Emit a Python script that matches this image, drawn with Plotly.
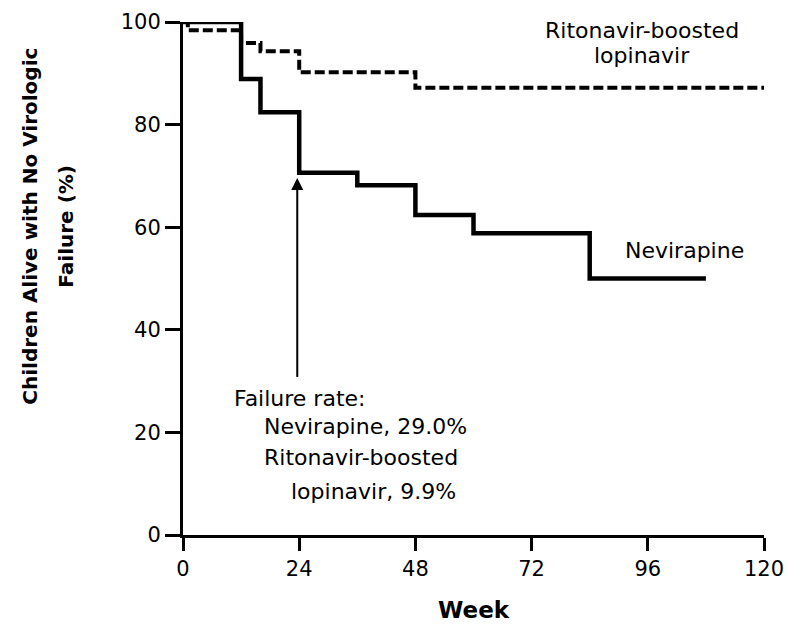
import plotly.graph_objects as go

# Kaplan-Meier style step data (week, % alive with no virologic failure)
nvp_weeks = [0, 12, 16, 24, 36, 48, 60, 84, 108]
nvp_surv = [100, 88.9, 82.4, 70.6, 68.2, 62.4, 58.8, 50.0, 50.0]
lpv_weeks = [0, 1, 12, 16, 24, 48, 120]
lpv_surv = [100, 98.4, 95.9, 94.3, 90.2, 87.2, 87.2]

x_ticks = [0, 24, 48, 72, 96, 120]
y_ticks = [0, 20, 40, 60, 80, 100]

FONT = "DejaVu Sans"

fig = go.Figure()
fig.add_trace(go.Scatter(x=lpv_weeks, y=lpv_surv, mode="lines", line_shape="hv",
                         line=dict(color="black", width=4, dash="10px,4px"),
                         cliponaxis=False, showlegend=False, hoverinfo="skip"))
fig.add_trace(go.Scatter(x=nvp_weeks, y=nvp_surv, mode="lines", line_shape="hv",
                         line=dict(color="black", width=4.5),
                         cliponaxis=False, showlegend=False, hoverinfo="skip"))

ann_font = dict(family=FONT, size=22, color="black")
annotations = [
    dict(x=94.7, y=98.3, text="Ritonavir-boosted", showarrow=False,
         xanchor="center", yanchor="middle", font=ann_font),
    dict(x=94.7, y=93.5, text="lopinavir", showarrow=False,
         xanchor="center", yanchor="middle", font=ann_font),
    dict(x=103.5, y=55.5, text="Nevirapine", showarrow=False,
         xanchor="center", yanchor="middle", font=ann_font),
    dict(x=10.1, y=26.6, text="Failure rate:", showarrow=False,
         xanchor="left", yanchor="middle", font=ann_font),
    dict(x=16.3, y=21.1, text="Nevirapine, 29.0%", showarrow=False,
         xanchor="left", yanchor="middle", font=ann_font),
    dict(x=16.3, y=15.1, text="Ritonavir-boosted", showarrow=False,
         xanchor="left", yanchor="middle", font=ann_font),
    dict(x=21.9, y=8.5, text="lopinavir, 9.9%", showarrow=False,
         xanchor="left", yanchor="middle", font=ann_font),
    # arrow
    dict(x=23.6, y=69.6, ax=23.6, ay=30.5, xref="x", yref="y", axref="x", ayref="y",
         text="", showarrow=True, arrowhead=2, arrowsize=1.2, arrowwidth=2,
         arrowcolor="black"),
    # axis titles
    dict(x=0, y=0.601, xref="paper", yref="paper", text="<b>Children Alive with No Virologic</b>",
         textangle=-90, showarrow=False, xanchor="center", yanchor="middle",
         xshift=-153, font=dict(family=FONT, size=20, color="black")),
    dict(x=0, y=0.601, xref="paper", yref="paper", text="<b>Failure (%)</b>",
         textangle=-90, showarrow=False, xanchor="center", yanchor="middle",
         xshift=-117, font=dict(family=FONT, size=20, color="black")),
    dict(x=0.5, y=0, xref="paper", yref="paper", text="<b>Week</b>", showarrow=False,
         xanchor="center", yanchor="middle", yshift=-75,
         font=dict(family=FONT, size=23, color="black")),
]

fig.update_layout(
    width=787, height=624,
    margin=dict(l=183, r=23, t=22, b=89, autoexpand=False),
    plot_bgcolor="white", paper_bgcolor="white",
    font=dict(family=FONT, size=21, color="black"),
    annotations=annotations,
    xaxis=dict(range=[0, 120], tickvals=x_ticks, ticktext=[str(v) for v in x_ticks],
               showgrid=False, zeroline=False, showline=True, linecolor="black",
               linewidth=3, ticks="outside", ticklen=13, tickwidth=3, tickcolor="black",
               automargin=False,
               tickfont=dict(family=FONT, size=21, color="black")),
    yaxis=dict(range=[0, 100], tickvals=y_ticks, ticktext=[str(v) for v in y_ticks],
               showgrid=False, zeroline=False, showline=True, linecolor="black",
               linewidth=3, ticks="outside", ticklen=15, tickwidth=3, tickcolor="black",
               automargin=False,
               tickfont=dict(family=FONT, size=21, color="black")),
)

fig.write_html("out.html")
